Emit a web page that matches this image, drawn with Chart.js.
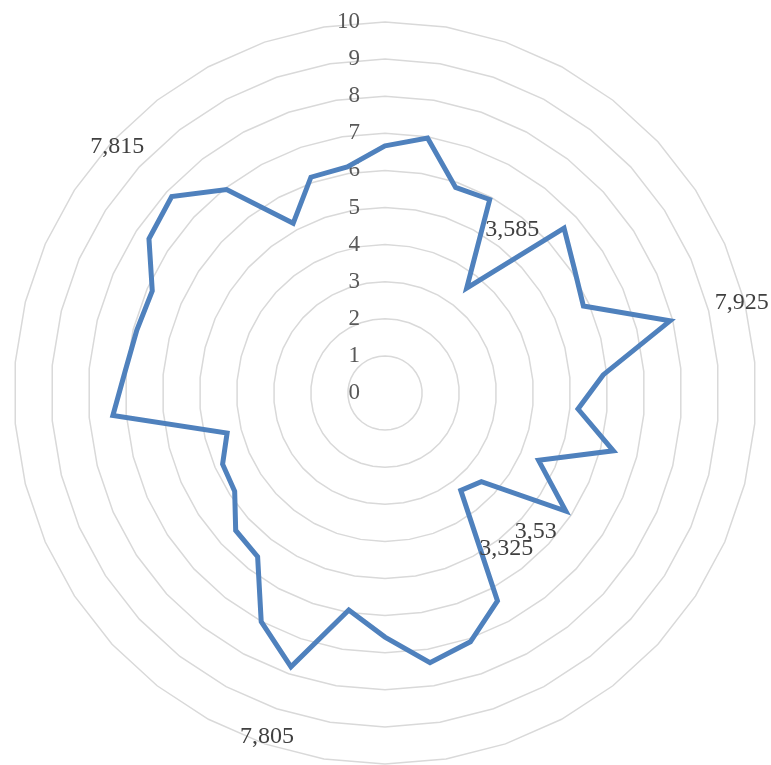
<!DOCTYPE html>
<html>
<head>
<meta charset="utf-8">
<script src="https://cdn.jsdelivr.net/npm/chart.js@4/dist/chart.umd.min.js"></script>
<style>
  html, body { margin: 0; padding: 0; background: #fff; }
  canvas { display: block; }
</style>
</head>
<body>
<canvas id="radarChart" width="771" height="765"></canvas>
<script>
// 38 spokes, first one at the top, going clockwise
const categories = [1, 2, 3, 4, 5, 6, 7, 8, 9, 10, 11, 12, 13, 14, 15, 16, 17, 18, 19,
  20, 21, 22, 23, 24, 25, 26, 27, 28, 29, 30, 31, 32, 33, 34, 35, 36, 37, 38];
const values = [6.66, 6.97, 5.86, 5.93, 3.585, 6.56, 6.1, 5.84, 7.925, 5.9,
  5.22, 6.35, 4.52, 5.82, 3.53, 3.325, 6.37, 7.09, 7.37, 6.58,
  5.93, 7.805, 7.01, 5.59, 5.47, 4.84, 4.78, 4.39, 7.36, 7.03,
  6.9, 6.85, 7.6, 7.815, 6.95, 5.2, 6.15, 6.18];
const tickLabels = ['0', '1', '2', '3', '4', '5', '6', '7', '8', '9', '10'];
// points that carry a value label (three highest, three lowest)
const labeledPoints = [4, 8, 14, 15, 21, 33];

const serif = '"Liberation Serif", "Times New Roman", serif';

const radarText = {
  id: 'radarText',
  beforeDatasetsDraw(chart) {
    const { ctx } = chart;
    const r = chart.scales.r;
    ctx.save();
    ctx.font = '23px ' + serif;
    ctx.textBaseline = 'middle';
    ctx.textAlign = 'right';
    ctx.fillStyle = '#595959';
    tickLabels.forEach(t => {
      const d = r.getDistanceFromCenterForValue(Number(t));
      ctx.fillText(t, r.xCenter - 25, r.yCenter - d);
    });
    ctx.restore();
  },
  afterDatasetsDraw(chart) {
    const { ctx } = chart;
    const r = chart.scales.r;
    ctx.save();
    ctx.font = '24px ' + serif;
    ctx.textBaseline = 'middle';
    ctx.textAlign = 'center';
    ctx.fillStyle = '#404040';
    labeledPoints.forEach(i => {
      const v = values[i];
      const p = r.getPointPosition(i, r.getDistanceFromCenterForValue(v) + 74);
      ctx.fillText(String(v).replace('.', ','), p.x, p.y);
    });
    ctx.restore();
  }
};

new Chart(document.getElementById('radarChart'), {
  type: 'radar',
  data: {
    labels: categories,
    datasets: [{
      data: values,
      borderColor: '#4f81bd',
      borderWidth: 5,
      backgroundColor: 'transparent',
      fill: false,
      pointRadius: 0,
      pointHoverRadius: 0,
      tension: 0
    }]
  },
  options: {
    responsive: false,
    animation: false,
    layout: { padding: { left: 14, right: 15, top: 22, bottom: 1 } },
    plugins: {
      legend: { display: false },
      tooltip: { enabled: false }
    },
    scales: {
      r: {
        min: 0,
        max: 10,
        ticks: { stepSize: 1, display: false },
        pointLabels: { display: false },
        angleLines: { display: false },
        grid: { color: '#d9d9d9', lineWidth: 1.5, circular: false }
      }
    }
  },
  plugins: [radarText]
});
</script>
</body>
</html>
